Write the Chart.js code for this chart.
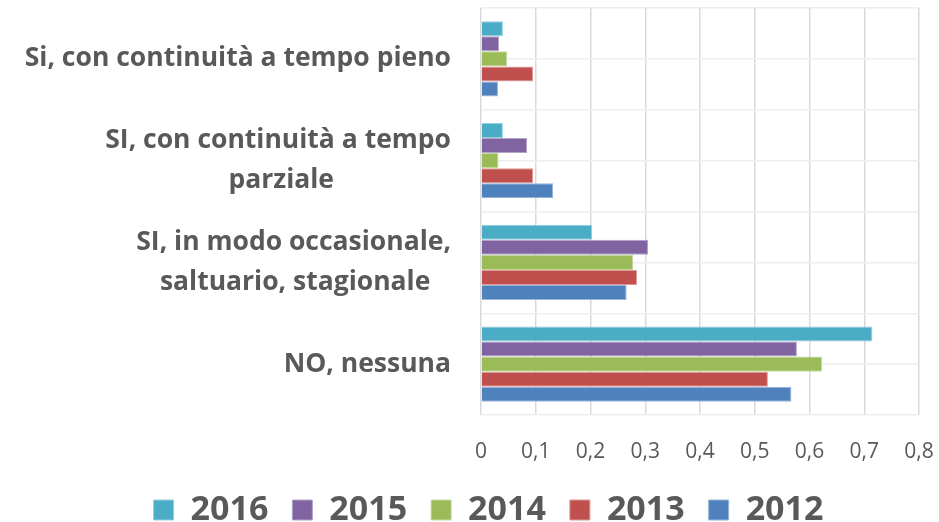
<!DOCTYPE html>
<html>
<head>
<meta charset="utf-8">
<script src="https://cdn.jsdelivr.net/npm/chart.js@4.4.1/dist/chart.umd.min.js"></script>
<style>
  html, body { margin: 0; padding: 0; background: #fff; }
  #wrap { width: 939px; height: 522px; }
</style>
</head>
<body>
<div id="wrap"><canvas id="barChart"></canvas></div>
<script>
// categories (top to bottom)
var categories = [
    'Si, con continuità a tempo pieno',
    ['SI, con continuità a tempo', 'parziale'],
    ['SI, in modo occasionale,', 'saltuario, stagionale'],
    'NO, nessuna'
];

var years = ['2016', '2015', '2014', '2013', '2012'];

// one array per year, same order as categories
var values2016 = [0.040, 0.040, 0.203, 0.715];
var values2015 = [0.033, 0.084, 0.305, 0.577];
var values2014 = [0.048, 0.032, 0.278, 0.623];
var values2013 = [0.095, 0.095, 0.285, 0.524];
var values2012 = [0.031, 0.132, 0.266, 0.567];

var xTickLabels = ['0', '0,1', '0,2', '0,3', '0,4', '0,5', '0,6', '0,7', '0,8'];

var colors = ['#4BACC6', '#8064A2', '#9BBB59', '#C0504D', '#4F81BD'];
var edges  = ['#93D0E0', '#B3A2C9', '#C5DA9B', '#DE9896', '#96B6DD'];

var series = [values2016, values2015, values2014, values2013, values2012];

var labelFont = { family: 'Open Sans', size: 26.5, weight: 'bold', lineHeight: 1.5 };

// center shorter lines of a two-line label under the longer one
var measureCtx = document.createElement('canvas').getContext('2d');
measureCtx.font = 'bold 26.5px "Open Sans"';
function centerLines(label) {
    if (!Array.isArray(label)) return label;
    var widths = label.map(function(l) { return measureCtx.measureText(l).width; });
    var widest = Math.max.apply(null, widths);
    var space = measureCtx.measureText(' ').width;
    return label.map(function(l, i) {
        var n = Math.round((widest - widths[i]) / 2 / space);
        return l + ' '.repeat(n);
    });
}

var datasets = years.map(function(y, i) {
    return {
        label: y,
        data: series[i],
        backgroundColor: colors[i],
        borderColor: edges[i],
        borderWidth: 1,
        borderSkipped: 'start',
        categoryPercentage: 0.74,
        barPercentage: 1.0
    };
});

// legend sits a bit right of the canvas centre in the original
var legendNudge = {
    id: 'legendNudge',
    afterLayout: function(chart) {
        chart.legend.left += 19;
        chart.legend.right += 19;
    }
};

var ctx = document.getElementById('barChart').getContext('2d');
new Chart(ctx, {
    type: 'bar',
    data: { labels: categories, datasets: datasets },
    plugins: [legendNudge],
    options: {
        indexAxis: 'y',
        responsive: true,
        maintainAspectRatio: false,
        animation: false,
        layout: { padding: { top: 8, right: 0, left: 0, bottom: -15 } },
        plugins: {
            tooltip: { enabled: false },
            legend: {
                position: 'bottom',
                labels: {
                    boxWidth: 20,
                    boxHeight: 20,
                    padding: 24,
                    color: '#595959',
                    font: { family: 'Open Sans', size: 34, weight: 'bold' }
                }
            }
        },
        scales: {
            x: {
                min: 0,
                max: 0.8,
                ticks: {
                    stepSize: 0.1,
                    padding: 24,
                    color: '#595959',
                    font: { family: 'Open Sans', size: 21 },
                    callback: function(v, i) { return xTickLabels[i]; }
                },
                grid: { color: '#d9d9d9', lineWidth: 1.5, drawTicks: false },
                border: { display: false },
                afterFit: function(scale) {
                    scale.height = 54;
                    scale.paddingLeft = 0;
                    scale.paddingRight = 20;
                }
            },
            y: {
                ticks: {
                    padding: 30,
                    color: '#595959',
                    font: labelFont,
                    callback: function(v, i) { return centerLines(categories[i]); }
                },
                grid: { color: '#eeeeee', lineWidth: 1.5, offset: true, drawTicks: false },
                border: { display: false },
                afterFit: function(scale) {
                    scale.width = 481;
                    scale.paddingTop = 0;
                    scale.paddingBottom = 0;
                }
            },
            yMid: {
                type: 'category',
                position: 'left',
                ticks: { display: false },
                grid: { color: '#eeeeee', lineWidth: 1.5, offset: false, drawTicks: false },
                border: { display: false },
                afterFit: function(scale) { scale.width = 0; }
            }
        }
    }
});
</script>
</body>
</html>
